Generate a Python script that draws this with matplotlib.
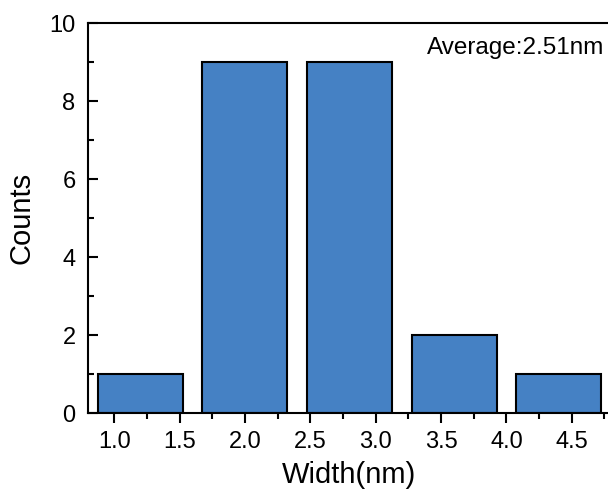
import matplotlib
matplotlib.use("Agg")
import matplotlib.pyplot as plt
from matplotlib.ticker import MultipleLocator

plt.rcParams['font.family'] = ['Liberation Sans', 'DejaVu Sans']

bin_centers = [1.2, 2.0, 2.8, 3.6, 4.4]
counts = [1, 9, 9, 2, 1]
xtick_vals = [1.0, 1.5, 2.0, 2.5, 3.0, 3.5, 4.0, 4.5]
ytick_vals = [0, 2, 4, 6, 8, 10]
annotation = "Average:2.51nm"

fig = plt.figure(figsize=(6.08, 4.90), dpi=100)
x0, x1 = 88 / 608, 611 / 608
y0, y1 = 1 - 413 / 490, 1 - 23 / 490
ax = fig.add_axes([x0, y0, x1 - x0, y1 - y0])

ax.bar(bin_centers, counts, width=0.65, color='#4581c4', edgecolor='black', linewidth=1.5)

ax.set_xlim(0.8, 4.8)
ax.set_ylim(0, 10)
ax.set_xticks(xtick_vals)
ax.set_xticklabels([f"{v:.1f}" for v in xtick_vals])
ax.set_yticks(ytick_vals)
ax.xaxis.set_minor_locator(MultipleLocator(0.25))
ax.yaxis.set_minor_locator(MultipleLocator(1))

for s in ['left', 'bottom', 'top']:
    ax.spines[s].set_linewidth(1.5)
ax.spines['right'].set_visible(False)

ax.tick_params(axis='x', which='major', direction='out', length=7, width=1.5, labelsize=17, pad=6)
ax.tick_params(axis='x', which='minor', direction='out', length=4, width=1.5)
ax.tick_params(axis='y', which='major', direction='in', length=7, width=1.5, labelsize=17, pad=9)
ax.tick_params(axis='y', which='minor', direction='in', length=4, width=1.5)
ax.tick_params(top=False, right=False, which='both')

ax.set_xlabel("Width(nm)", fontsize=21, labelpad=6)
ax.set_ylabel("Counts", fontsize=21, labelpad=10)

fig.text(604 / 608, 1 - 48 / 490, annotation, ha='right', va='center', fontsize=17.5)

fig.savefig("out.png", dpi=100)
